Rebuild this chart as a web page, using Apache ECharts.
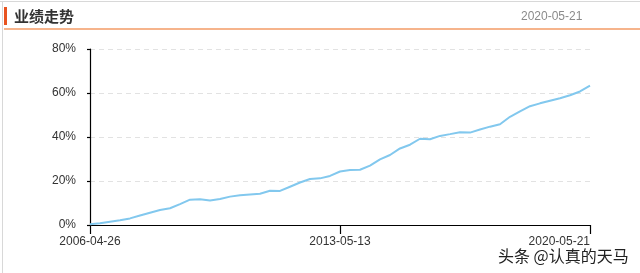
<!DOCTYPE html>
<html>
<head>
<meta charset="utf-8">
<script src="https://cdn.jsdelivr.net/npm/echarts@6/dist/echarts.min.js"></script>
<style>
html,body{margin:0;padding:0;background:#fff;}
#c{width:640px;height:273px;}
</style>
</head>
<body>
<div id="c"></div>
<script>
const title = '业绩走势';
const headerDate = '2020-05-21';
const watermark = '头条 @认真的天马';
const yTicks = [0, 20, 40, 60, 80];
const labelIndices = [0, 25, 50];
const dates = [
  '2006-04-26','2006-08-07','2006-11-17','2007-02-28','2007-06-11','2007-09-21','2008-01-02','2008-04-14','2008-07-25','2008-11-05',
  '2009-02-16','2009-05-29','2009-09-09','2009-12-21','2010-04-02','2010-07-14','2010-10-25','2011-02-04','2011-05-18','2011-08-29',
  '2011-12-09','2012-03-21','2012-07-02','2012-10-12','2013-01-23','2013-05-13','2013-08-23','2013-12-04','2014-03-17','2014-06-27',
  '2014-10-08','2015-01-19','2015-04-30','2015-08-12','2015-11-23','2016-03-04','2016-06-15','2016-09-26','2017-01-06','2017-04-19',
  '2017-07-31','2017-11-10','2018-02-21','2018-06-04','2018-09-14','2018-12-26','2019-04-08','2019-07-19','2019-10-30','2020-02-10',
  '2020-05-21'
];
const returns = [
  0.3, 0.8, 1.5, 2.2, 3.0, 4.3, 5.6, 6.8, 7.6, 9.5,
  11.5, 11.7, 11.1, 11.8, 12.9, 13.5, 13.9, 14.2, 15.6, 15.5,
  17.4, 19.3, 20.9, 21.2, 22.3, 24.3, 25.0, 25.1, 27.0, 29.8,
  31.8, 34.8, 36.5, 39.2, 39.0, 40.5, 41.3, 42.2, 42.0, 43.4,
  44.7, 45.8, 49.2, 51.6, 54.0, 55.3, 56.5, 57.6, 59.0, 60.7,
  63.3
];

const chart = echarts.init(document.getElementById('c'), null, {renderer: 'canvas'});
const showIdx = (i) => labelIndices.indexOf(i) >= 0;
chart.setOption({
  animation: false,
  backgroundColor: '#fff',
  grid: {left: 90, right: 50, top: 49, bottom: 48, containLabel: false},
  xAxis: {
    type: 'category',
    data: dates,
    boundaryGap: false,
    axisLine: {lineStyle: {color: '#000', width: 1.2}},
    axisTick: {show: true, interval: showIdx, length: 9, lineStyle: {color: '#000', width: 1.2}},
    axisLabel: {
      interval: showIdx, margin: 11, color: '#333', fontSize: 12,
      fontFamily: 'Liberation Sans', alignMaxLabel: 'right', showMaxLabel: true, showMinLabel: true
    },
    splitLine: {show: false}
  },
  yAxis: {
    type: 'value',
    min: yTicks[0], max: yTicks[yTicks.length - 1], interval: 20,
    axisLine: {show: true, lineStyle: {color: '#000', width: 1.2}},
    axisTick: {show: true, length: 3, lineStyle: {color: '#000', width: 1.2}},
    axisLabel: {formatter: '{value}%', margin: 14, color: '#333', fontSize: 12, fontFamily: 'Liberation Sans'},
    splitLine: {show: true, lineStyle: {color: '#e2e2e2', type: [5, 4], width: 1}}
  },
  series: [{
    type: 'line',
    data: returns,
    showSymbol: false,
    symbol: 'none',
    lineStyle: {color: '#82c8ee', width: 2},
    z: 3
  }],
  graphic: [
    {type: 'rect', shape: {x: 0, y: 1, width: 640, height: 1}, style: {fill: '#d8d8d8'}, silent: true},
    {type: 'rect', shape: {x: 2, y: 1, width: 1, height: 272}, style: {fill: '#d8d8d8'}, silent: true},
    {type: 'rect', shape: {x: 4, y: 7, width: 3, height: 18}, style: {fill: '#e8531f'}, silent: true},
    {type: 'rect', shape: {x: 4, y: 28, width: 636, height: 2}, style: {fill: '#f6b48c'}, silent: true},
    {type: 'text', left: 14, top: 9, style: {text: title, fill: '#333', font: 'bold 15px "Noto Sans CJK SC"'}, silent: true},
    {type: 'text', left: 521, top: 11, style: {text: headerDate, fill: '#8a8a8a', font: '12px "Liberation Sans"'}, silent: true},
    {type: 'text', left: 497, top: 247, style: {text: watermark, fill: '#222', font: '16px "Noto Sans CJK SC"', stroke: '#fff', lineWidth: 2}, silent: true, z: 10}
  ]
});
</script>
</body>
</html>
